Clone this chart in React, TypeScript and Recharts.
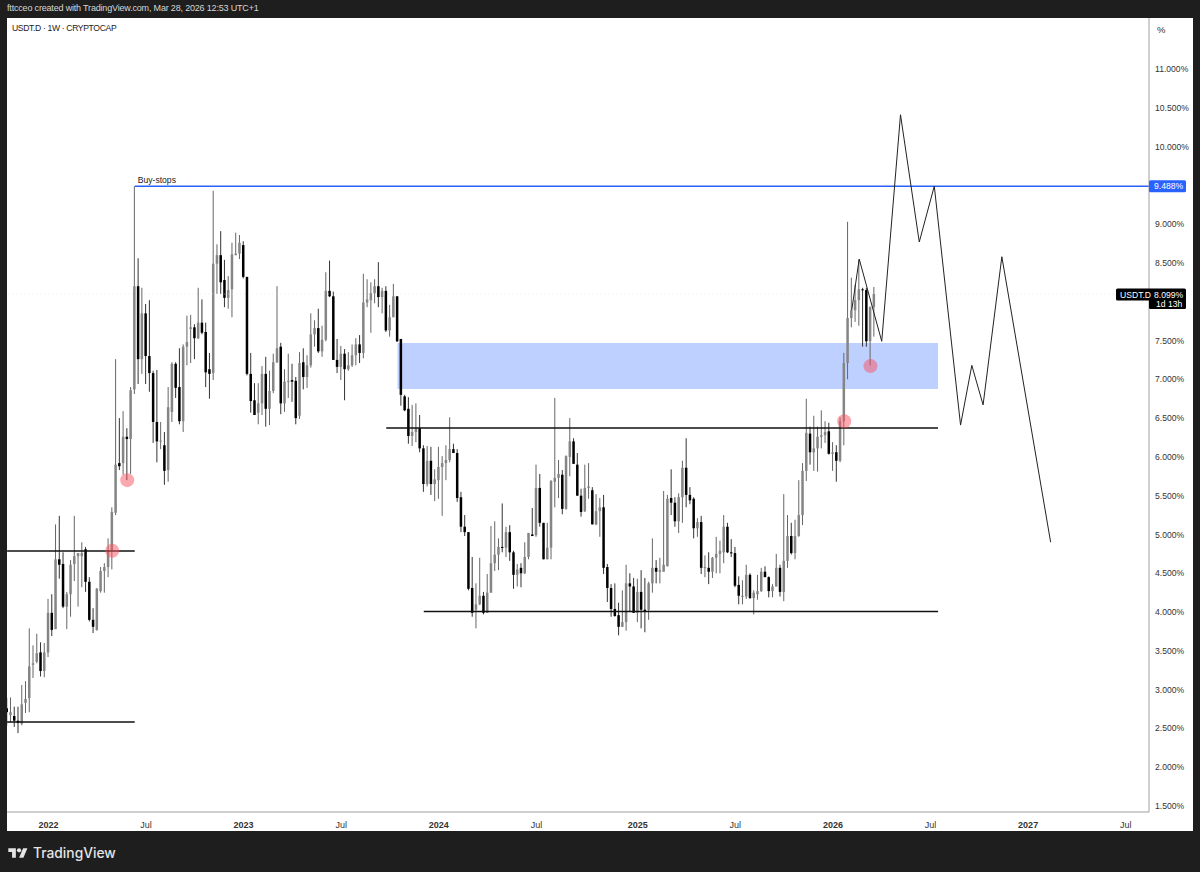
import { ComposedChart, Bar, Line, XAxis, YAxis, ReferenceArea, ReferenceLine, ReferenceDot } from 'recharts';

// weekly USDT.D candles, one entry per week starting late 2021
const opens = [
  2.76, 2.67, 2.66, 2.60, 2.56, 2.83, 2.89, 3.32, 3.36, 3.48,
  3.24, 3.48, 3.99, 3.78, 4.68, 4.62, 4.07, 4.23, 4.62, 4.72,
  4.72, 4.81, 4.39, 3.90, 3.77, 4.27, 4.53, 4.58, 4.80, 5.28,
  5.92, 5.92, 6.26, 6.23, 6.87, 8.20, 7.26, 7.85, 7.30, 7.08,
  6.45, 6.20, 6.15, 5.83, 6.58, 7.20, 6.90, 6.46, 7.42, 7.65,
  7.67, 7.53, 7.73, 7.61, 7.13, 7.08, 8.49, 8.60, 8.28, 8.05,
  8.16, 8.60, 8.62, 8.73, 8.32, 7.07, 6.73, 6.57, 6.69, 7.07,
  6.62, 6.85, 7.22, 7.42, 6.69, 6.97, 6.99, 6.98, 6.53, 7.22,
  7.03, 7.18, 7.58, 7.66, 7.36, 7.51, 8.14, 8.07, 7.25, 7.16,
  7.33, 7.13, 7.18, 7.31, 7.45, 7.34, 7.99, 8.02, 8.11, 8.20,
  8.06, 8.14, 7.63, 7.80, 8.07, 7.52, 6.78, 6.62, 6.27, 6.32,
  6.37, 6.11, 5.65, 5.95, 5.65, 5.70, 5.87, 5.92, 5.96, 6.10,
  6.05, 5.48, 5.10, 5.03, 4.31, 4.03, 4.10, 4.21, 3.99, 4.25,
  4.63, 4.74, 4.84, 4.83, 5.03, 4.77, 4.48, 4.57, 4.50, 4.71,
  5.00, 4.99, 5.60, 5.15, 4.68, 4.83, 5.68, 5.73, 5.77, 5.33,
  6.00, 6.20, 5.90, 5.50, 5.30, 5.60, 5.57, 5.13, 5.30, 5.35,
  4.58, 4.31, 4.04, 3.96, 3.81, 3.87, 4.37, 4.33, 3.99, 4.26,
  4.03, 4.03, 4.37, 4.57, 4.52, 4.52, 4.59, 5.47, 5.41, 5.17,
  5.48, 5.86, 5.51, 5.46, 5.08, 5.16, 4.57, 4.57, 4.52, 4.70,
  4.75, 4.77, 5.10, 4.77, 4.76, 4.35, 4.20, 4.20, 4.48, 4.18,
  4.23, 4.27, 4.52, 4.45, 4.27, 4.33, 4.57, 4.26, 4.66, 4.98,
  4.76, 4.98, 5.25, 5.82, 6.30, 6.06, 6.11, 6.26, 6.28, 6.33,
  6.04, 6.06, 5.95, 6.46, 7.21, 7.79, 7.89, 8.02, 8.16, 8.15,
  7.49, 7.93,
];
const highs = [
  2.89, 2.90, 2.78, 2.78, 3.06, 3.11, 3.79, 3.57, 3.72, 3.61,
  3.60, 4.17, 4.23, 5.13, 5.24, 4.77, 4.26, 4.67, 5.24, 4.76,
  4.90, 4.84, 4.45, 4.05, 4.31, 4.58, 4.63, 4.95, 5.35, 7.26,
  6.50, 6.59, 6.37, 6.90, 9.488, 8.56, 8.18, 7.97, 8.02, 7.11,
  7.12, 6.45, 6.32, 6.90, 7.22, 7.22, 7.40, 7.45, 7.82, 7.83,
  7.71, 8.18, 8.03, 7.73, 7.34, 9.43, 8.74, 8.91, 8.54, 8.33,
  8.76, 8.89, 8.86, 8.78, 8.32, 7.34, 6.95, 6.95, 7.17, 7.29,
  7.11, 7.33, 8.20, 7.47, 7.13, 7.33, 7.20, 7.03, 7.35, 7.40,
  7.31, 7.85, 7.76, 7.91, 7.69, 8.38, 8.53, 8.13, 7.52, 7.43,
  7.39, 7.35, 7.45, 7.53, 7.57, 8.36, 8.29, 8.25, 8.29, 8.51,
  8.18, 8.20, 7.96, 8.23, 8.07, 7.52, 6.80, 6.77, 6.67, 6.69,
  6.54, 6.15, 6.14, 6.13, 5.84, 6.13, 6.01, 6.15, 6.51, 6.17,
  6.10, 5.55, 5.25, 5.03, 4.71, 4.37, 4.70, 4.26, 4.49, 5.11,
  5.17, 4.95, 5.40, 5.10, 5.12, 4.79, 4.62, 4.63, 4.90, 5.02,
  5.34, 5.90, 5.78, 5.15, 5.15, 5.70, 6.76, 5.96, 5.83, 6.02,
  6.50, 6.24, 6.05, 5.59, 5.90, 5.92, 5.61, 5.52, 5.47, 5.51,
  4.62, 4.36, 4.37, 4.12, 4.28, 4.61, 4.50, 4.44, 4.43, 4.54,
  4.44, 4.39, 4.95, 4.67, 4.70, 5.56, 5.51, 5.84, 5.48, 5.53,
  5.95, 6.24, 5.61, 5.48, 5.21, 5.24, 4.73, 4.77, 4.71, 4.97,
  4.92, 5.25, 5.15, 4.94, 4.84, 4.46, 4.41, 4.61, 4.50, 4.28,
  4.48, 4.57, 4.59, 4.46, 4.36, 4.75, 4.61, 5.52, 5.25, 5.15,
  5.19, 5.70, 5.92, 6.75, 6.39, 6.53, 6.39, 6.60, 6.46, 6.44,
  6.19, 6.15, 6.51, 7.34, 9.03, 8.31, 8.22, 8.54, 8.18, 8.18,
  7.94, 8.19,
];
const lows = [
  2.54, 2.58, 2.52, 2.44, 2.54, 2.70, 2.71, 3.15, 3.34, 3.17,
  3.16, 3.42, 3.69, 3.78, 4.43, 4.05, 3.78, 3.94, 4.40, 4.07,
  4.32, 4.26, 3.88, 3.73, 3.76, 4.25, 4.25, 4.45, 4.55, 5.25,
  5.83, 5.77, 5.70, 5.78, 6.81, 6.94, 7.07, 6.94, 6.84, 6.18,
  5.93, 6.10, 5.64, 5.68, 6.45, 6.76, 6.42, 6.32, 7.18, 7.21,
  7.26, 7.52, 7.58, 6.90, 6.75, 6.99, 8.10, 8.10, 7.93, 7.91,
  7.80, 8.60, 8.55, 8.30, 7.05, 6.57, 6.54, 6.42, 6.54, 6.39,
  6.41, 6.82, 7.21, 6.55, 6.58, 6.76, 6.71, 6.42, 6.49, 6.87,
  6.89, 7.15, 7.42, 7.34, 7.29, 7.49, 8.06, 7.25, 7.08, 6.99,
  6.73, 7.11, 7.16, 7.18, 7.21, 7.27, 7.93, 7.60, 7.98, 7.93,
  7.85, 7.61, 7.55, 7.80, 7.48, 6.66, 6.59, 6.17, 6.14, 6.19,
  6.06, 5.55, 5.62, 5.51, 5.43, 5.46, 5.24, 5.70, 5.93, 6.05,
  5.42, 5.03, 4.98, 4.28, 3.94, 3.79, 4.09, 3.97, 3.99, 4.25,
  4.53, 4.54, 4.77, 4.71, 4.66, 4.30, 4.33, 4.32, 4.49, 4.68,
  4.98, 4.97, 5.10, 4.68, 4.68, 4.68, 5.35, 5.47, 5.26, 5.32,
  5.75, 5.91, 5.50, 5.23, 5.29, 5.46, 5.13, 5.12, 4.97, 4.49,
  4.13, 3.94, 3.94, 3.70, 3.81, 3.76, 4.00, 3.99, 3.87, 3.79,
  3.74, 3.90, 4.25, 4.37, 4.37, 4.52, 4.59, 5.25, 5.10, 5.02,
  5.15, 5.35, 5.39, 4.95, 4.97, 4.49, 4.45, 4.36, 4.44, 4.50,
  4.50, 4.63, 4.76, 4.71, 4.32, 4.10, 4.10, 4.17, 4.17, 3.97,
  4.16, 4.26, 4.45, 4.19, 4.19, 4.33, 4.20, 4.14, 4.57, 4.74,
  4.68, 4.97, 5.12, 5.69, 5.90, 5.82, 5.81, 6.11, 6.18, 6.03,
  5.82, 5.68, 5.93, 6.15, 7.00, 7.67, 7.74, 7.69, 7.42, 7.42,
  7.18, 7.55,
];
const closes = [
  2.71, 2.71, 2.60, 2.57, 2.81, 2.88, 3.30, 3.34, 3.47, 3.24,
  3.48, 3.99, 3.77, 4.68, 4.61, 4.07, 4.23, 4.61, 4.72, 4.76,
  4.76, 4.39, 3.90, 3.81, 4.30, 4.53, 4.58, 4.80, 5.29, 5.90,
  5.88, 6.26, 6.23, 6.86, 8.20, 7.26, 7.85, 7.30, 7.08, 6.45,
  6.20, 6.21, 5.82, 6.64, 7.20, 6.89, 6.46, 7.42, 7.48, 7.67,
  7.53, 7.73, 7.60, 7.09, 7.07, 8.49, 8.60, 8.25, 8.05, 8.15,
  8.61, 8.62, 8.76, 8.32, 7.07, 6.72, 6.54, 6.69, 7.07, 6.62,
  6.85, 7.22, 7.40, 6.69, 6.97, 6.98, 6.97, 6.50, 7.21, 7.03,
  7.18, 7.58, 7.66, 7.36, 7.51, 8.14, 8.07, 7.25, 7.16, 7.33,
  7.13, 7.18, 7.31, 7.45, 7.34, 7.99, 8.03, 8.11, 8.20, 8.06,
  8.14, 7.63, 7.80, 8.07, 7.49, 6.80, 6.60, 6.27, 6.32, 6.37,
  6.11, 5.65, 5.95, 5.65, 5.71, 5.87, 5.92, 5.96, 6.10, 6.05,
  5.47, 5.10, 5.03, 4.30, 3.99, 4.10, 4.21, 3.99, 4.25, 4.63,
  4.74, 4.84, 4.83, 5.03, 4.77, 4.48, 4.55, 4.50, 4.71, 5.02,
  4.98, 5.60, 5.15, 4.68, 4.83, 5.69, 5.73, 5.78, 5.33, 6.01,
  6.20, 5.91, 5.50, 5.29, 5.60, 5.62, 5.13, 5.30, 5.35, 4.57,
  4.31, 4.04, 3.95, 3.81, 3.87, 4.37, 4.33, 3.99, 4.26, 4.03,
  4.01, 4.37, 4.57, 4.52, 4.54, 4.61, 5.46, 5.41, 5.17, 5.48,
  5.86, 5.51, 5.44, 5.08, 5.16, 4.57, 4.58, 4.52, 4.70, 4.75,
  4.79, 5.10, 4.77, 4.76, 4.34, 4.21, 4.21, 4.48, 4.18, 4.25,
  4.27, 4.52, 4.45, 4.27, 4.33, 4.57, 4.26, 4.66, 4.98, 4.76,
  4.98, 5.25, 5.82, 6.31, 6.06, 6.11, 6.26, 6.28, 6.32, 6.04,
  6.06, 5.95, 6.46, 7.21, 7.79, 7.89, 8.02, 8.16, 8.15, 7.49,
  7.93, 8.099,
];

// hand drawn projection, snapped to weeks
const projectionWeeks = [225, 227, 233, 238, 243, 247, 254, 257, 260, 265, 278];
const projectionValues = [7.89, 8.55, 7.49, 10.41, 8.77, 9.49, 6.41, 7.18, 6.67, 8.58, 4.90];

const priceTicks = [1.5, 2, 2.5, 3, 3.5, 4, 4.5, 5, 5.5, 6, 6.5, 7, 7.5, 8.5, 9, 10, 10.5, 11];
const timeTicks = [11, 37, 63, 89, 115, 141, 168, 194, 220, 246, 272, 298];
const timeLabels = ['2022', 'Jul', '2023', 'Jul', '2024', 'Jul', '2025', 'Jul', '2026', 'Jul', '2027', 'Jul'];

const buyStops = 9.488;
const lastPrice = 8.099;
const supportLevels = [
  { value: 4.787, from: 0, to: 34 },
  { value: 2.583, from: 0, to: 34 },
  { value: 6.373, from: 101, to: 248 },
  { value: 4.007, from: 111, to: 248 },
];
const zone = { from: 104, to: 248, low: 6.875, high: 7.468 };
const markerWeeks = [28, 32, 223, 230];
const markerValues = [4.79, 5.70, 6.46, 7.17];

const X_MIN = -0.03;
const X_MAX = 304.2;
const Y_MIN = 1.423;
const Y_MAX = 11.657;
const FONT = '"Liberation Sans", Arial, sans-serif';

const allWeeks = Array.from(new Set([...opens.map((_, i) => i), ...projectionWeeks]));
const table = allWeeks.map(week => {
  const p = projectionWeeks.indexOf(week);
  const hasCandle = week < opens.length;
  return {
    week,
    open: hasCandle ? opens[week] : null,
    high: hasCandle ? highs[week] : null,
    low: hasCandle ? lows[week] : null,
    close: hasCandle ? closes[week] : null,
    range: hasCandle ? [lows[week], highs[week]] : null,
    projection: p >= 0 ? projectionValues[p] : null,
  };
});

function Candle(props: any) {
  const { x, y, width, height, payload } = props;
  if (payload == null || payload.high == null || !Number.isFinite(y)) return null;
  const { open, close, high, low } = payload;
  const top = Math.min(y, y + height);
  const span = Math.abs(height);
  const pxPerUnit = span / (high - low);
  const bodyTop = top + (high - Math.max(open, close)) * pxPerUnit;
  const bodyH = Math.max(Math.abs(open - close) * pxPerUnit, 1);
  const cx = x + width / 2;
  const up = close >= open;
  const color = up ? '#858585' : '#000000';
  return (
    <g>
      <line x1={cx} x2={cx} y1={top} y2={top + span} stroke={up ? '#666666' : '#333333'} strokeWidth={1} />
      <rect x={cx - 1.25} y={bodyTop} width={2.5} height={bodyH} fill={color} />
    </g>
  );
}

function TimeTick(props: any) {
  const { x, y, payload } = props;
  const label = timeLabels[timeTicks.indexOf(payload.value)];
  const isYear = label !== 'Jul';
  return (
    <text x={x} y={y + 8} textAnchor="middle" fontFamily={FONT} fontSize={9} fontWeight={isYear ? 700 : 400} fill="#333">
      {label}
    </text>
  );
}

function BuyStopsLabel(props: any) {
  return (
    <text x={props.cx + 3} y={props.cy - 3} fontFamily={FONT} fontSize={8.6} fill="#222">
      Buy-stops
    </text>
  );
}

function BlueTag(props: any) {
  const { cx, cy } = props;
  return (
    <g>
      <rect x={cx} y={cy - 6} width={37} height={12} rx={1.5} fill="#2962ff" />
      <text x={cx + 5} y={cy + 3} fontFamily={FONT} fontSize={8.6} fill="#fff">
        {buyStops.toFixed(3)}%
      </text>
    </g>
  );
}

function LastPriceTag(props: any) {
  const { cx, cy } = props;
  return (
    <g fontFamily={FONT} fontSize={8.6} fill="#fff">
      <rect x={cx - 33} y={cy - 5.5} width={70} height={12} rx={1.5} fill="#000" />
      <rect x={cx} y={cy + 5} width={37} height={10} rx={1.5} fill="#000" />
      <text x={cx - 29} y={cy + 3.5}>USDT.D</text>
      <text x={cx + 5} y={cy + 3.5}>{lastPrice.toFixed(3)}%</text>
      <text x={cx + 7} y={cy + 13}>1d 13h</text>
    </g>
  );
}

export default function App() {
  return (
    <div style={{ position: 'absolute', left: 0, top: 0, width: 1200, height: 872, background: '#1e1e1e', overflow: 'hidden', fontFamily: FONT }}>
      <div style={{ position: 'absolute', left: 7, top: 18, width: 1186, height: 813, background: '#fff' }} />
      <div style={{ position: 'absolute', left: 7, top: 3, fontSize: 9, letterSpacing: -0.18, color: '#d6d6d6' }}>
        fttcceo created with TradingView.com, Mar 28, 2026 12:53 UTC+1
      </div>
      <div style={{ position: 'absolute', left: 12, top: 23, fontSize: 8.6, letterSpacing: -0.35, color: '#222' }}>USDT.D · 1W · CRYPTOCAP</div>
      <div style={{ position: 'absolute', left: 1157, top: 24, fontSize: 9.5, color: '#333' }}>%</div>

      <div style={{ position: 'absolute', left: 0, top: 0 }}>
        <ComposedChart width={1200} height={872} data={table} margin={{ top: 18, right: 7, bottom: 41, left: 7 }} barCategoryGap={0}>
          <XAxis
            dataKey="week"
            type="number"
            domain={[X_MIN, X_MAX]}
            ticks={timeTicks}
            tick={TimeTick}
            tickLine={false}
            height={19}
            stroke="#a0a0a0"
            allowDataOverflow
          />
          <YAxis
            orientation="right"
            type="number"
            domain={[Y_MIN, Y_MAX]}
            ticks={priceTicks}
            tickFormatter={(v: number) => `${v.toFixed(3)}%`}
            tick={{ fontFamily: FONT, fontSize: 8.6, fill: '#333' }}
            tickLine={false}
            tickMargin={6}
            tickSize={0}
            width={44}
            stroke="#a0a0a0"
            interval={0}
            allowDataOverflow
          />
          <ReferenceArea x1={zone.from} x2={zone.to} y1={zone.low} y2={zone.high} fill="#2962ff" fillOpacity={0.3} stroke="none" />
          <ReferenceLine y={lastPrice} stroke="#dddddd" strokeWidth={0.5} strokeDasharray="1 3" />
          {supportLevels.map(level => (
            <ReferenceLine
              key={`${level.value}`}
              segment={[{ x: level.from, y: level.value }, { x: level.to, y: level.value }]}
              stroke="#111"
              strokeWidth={1.6}
            />
          ))}
          <ReferenceLine
            segment={[{ x: 34, y: buyStops }, { x: X_MAX, y: buyStops }]}
            stroke="#2962ff"
            strokeWidth={1.4}
          />
          <Bar dataKey="range" barSize={3} shape={Candle} isAnimationActive={false} />
          <Line dataKey="projection" type="linear" connectNulls dot={false} stroke="#222" strokeWidth={1} isAnimationActive={false} />
          {markerWeeks.map((week, i) => (
            <ReferenceDot key={week} x={week} y={markerValues[i]} r={7} fill="#f7525f" fillOpacity={0.5} stroke="none" />
          ))}
          <ReferenceDot x={34} y={buyStops} shape={BuyStopsLabel} />
          <ReferenceDot x={X_MAX} y={buyStops} shape={BlueTag} />
          <ReferenceDot x={X_MAX} y={lastPrice} shape={LastPriceTag} />
        </ComposedChart>
      </div>

      <div style={{ position: 'absolute', left: 8, top: 845, display: 'flex', alignItems: 'center', gap: 5, color: '#e4e4e4', fontFamily: 'Inter, sans-serif' }}>
        <svg width="20" height="14" viewBox="0 0 36 26">
          <path d="M14 22H7V11H0V4h14v18zM28 22h-8l7.5-18h8L28 22z" fill="#e4e4e4" />
          <circle cx="20" cy="8" r="4" fill="#e4e4e4" />
        </svg>
        <span style={{ fontSize: 13.8, fontWeight: 500 }}>TradingView</span>
      </div>
    </div>
  );
}
